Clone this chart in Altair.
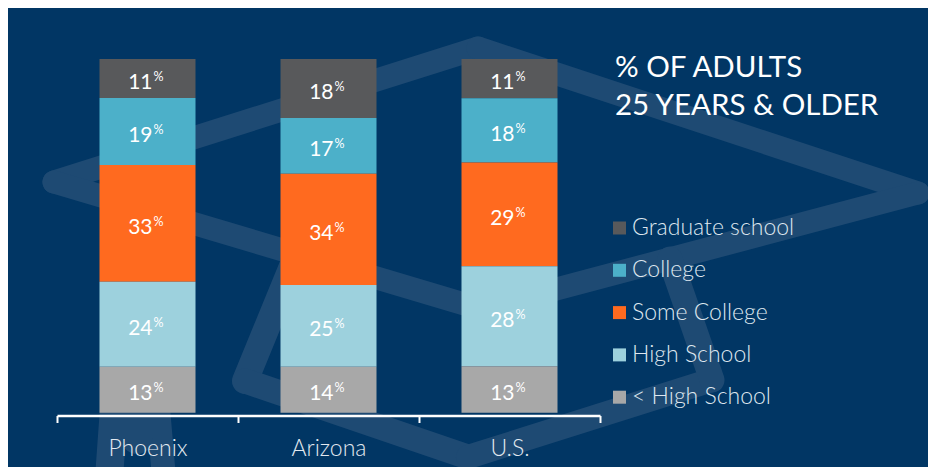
import altair as alt
import pandas as pd

# ---- data ----
cities = ["Phoenix", "Arizona", "U.S."]
levels = ["Graduate school", "College", "Some College", "High School", "< High School"]
phoenix = [11, 19, 33, 24, 13]
arizona = [18, 17, 34, 25, 14]
us = [11, 18, 29, 28, 13]
colors = ["#58595b", "#4cb0c9", "#ff6a1f", "#9dd1dd", "#a8a8a8"]
title_lines = ["% OF ADULTS", "25 YEARS & OLDER"]

BG = "#013664"
DECOR = "#1e4a73"

rows = []
for city, vals in zip(cities, [phoenix, arizona, us]):
    for i, (lvl, v) in enumerate(zip(levels, vals)):
        rows.append({"city": city, "level": lvl, "value": v, "order": len(levels) - 1 - i})
df = pd.DataFrame(rows)

# ---- decorative background (mortarboard outline), pixel positions ----
decor_segments = [
    # (x1, y1, x2, y2, width)
    (46, 174, 470, 40, 23),
    (470, 40, 910, 185, 23),
    (910, 185, 473, 301, 23),
    (473, 301, 46, 174, 23),
    (289, 246, 237, 373, 26),
    (237, 373, 460, 449, 25),
    (460, 449, 704, 372, 24),
    (704, 372, 662, 251, 25),
    (106, 400, 101, 470, 28),
    (150, 400, 156, 470, 24),
    (129, 400, 129, 430, 32),
]

one = alt.Data(values=[{}])
decor_layers = [
    alt.Chart(one).mark_rule(color=DECOR, strokeWidth=w, strokeCap="round").encode(
        x=alt.value(x1), y=alt.value(y1), x2=alt.value(x2), y2=alt.value(y2)
    )
    for (x1, y1, x2, y2, w) in decor_segments
]

base = (
    alt.Chart(df)
    .transform_joinaggregate(total="sum(value)", groupby=["city"])
    .transform_calculate(frac="datum.value / datum.total")
    .transform_window(
        cum="sum(frac)",
        sort=[alt.SortField("order", order="ascending")],
        groupby=["city"],
        frame=[None, 0],
    )
    .transform_calculate(start="datum.cum - datum.frac", mid="datum.cum - datum.frac / 2")
)

xscale = alt.Scale(range=[49, 592], paddingInner=0, paddingOuter=0)
yscale = alt.Scale(domain=[0, 1], range=[404.7, 51])

x_axis = alt.X(
    "city:N",
    sort=cities,
    scale=xscale,
    axis=alt.Axis(
        title=None,
        labelAngle=0,
        labelFont="Lato",
        labelFontSize=23,
        labelFontWeight=300,
        labelColor="#e3e9f0",
        labelPadding=15,
        domainColor="white",
        domainWidth=2.5,
        tickColor="white",
        tickWidth=2,
        tickSize=7,
        tickBand="extent",
        grid=False,
        zindex=1,
    ),
)
x_plain = alt.X("city:N", sort=cities, scale=xscale)

bars = base.mark_bar(size=96).encode(
    x=x_axis,
    y=alt.Y("start:Q", scale=yscale, axis=None),
    y2="cum:Q",
    color=alt.Color(
        "level:N",
        scale=alt.Scale(domain=levels, range=colors),
        legend=alt.Legend(
            title=None,
            orient="none",
            legendX=600,
            legendY=208.5,
            symbolType="square",
            symbolSize=169,
            symbolStrokeWidth=0,
            symbolOpacity=1,
            labelFont="Lato",
            labelFontSize=23,
            labelFontWeight=300,
            labelColor="#dfe7ef",
            labelOffset=1,
            labelLimit=300,
            rowPadding=18.3,
            padding=0,
        ),
    ),
)

nums = base.mark_text(
    align="right", baseline="alphabetic", dx=5, dy=10.4, font="Lato", fontSize=21, color="white"
).encode(
    x=x_plain,
    y=alt.Y("mid:Q", scale=yscale, axis=None),
    text=alt.Text("value:Q", format="d"),
)

pct = base.mark_text(
    align="left", baseline="alphabetic", dx=6, dy=2.3, font="Lato", fontSize=12.5, color="white"
).encode(
    x=x_plain,
    y=alt.Y("mid:Q", scale=yscale, axis=None),
    text=alt.value("%"),
)

title1 = alt.Chart(one).mark_text(
    align="left", baseline="alphabetic", font="Lato", fontSize=29.5, color="white"
).encode(x=alt.value(607), y=alt.value(69), text=alt.value(title_lines[0]))
title2 = alt.Chart(one).mark_text(
    align="left", baseline="alphabetic", font="Lato", fontSize=29.5, color="white"
).encode(x=alt.value(607), y=alt.value(107), text=alt.value(title_lines[1]))

chart = (
    alt.layer(*decor_layers, bars, nums, pct, title1, title2)
    .properties(
        width=920,
        height=407.5,
        padding={"left": 0, "top": 0, "right": 0, "bottom": 51.5},
        autosize=alt.AutoSizeParams(type="none"),
        background=BG,
    )
    .configure_view(stroke=None)
)

chart.save("out.html", embed_options={"renderer": "svg", "actions": False})
